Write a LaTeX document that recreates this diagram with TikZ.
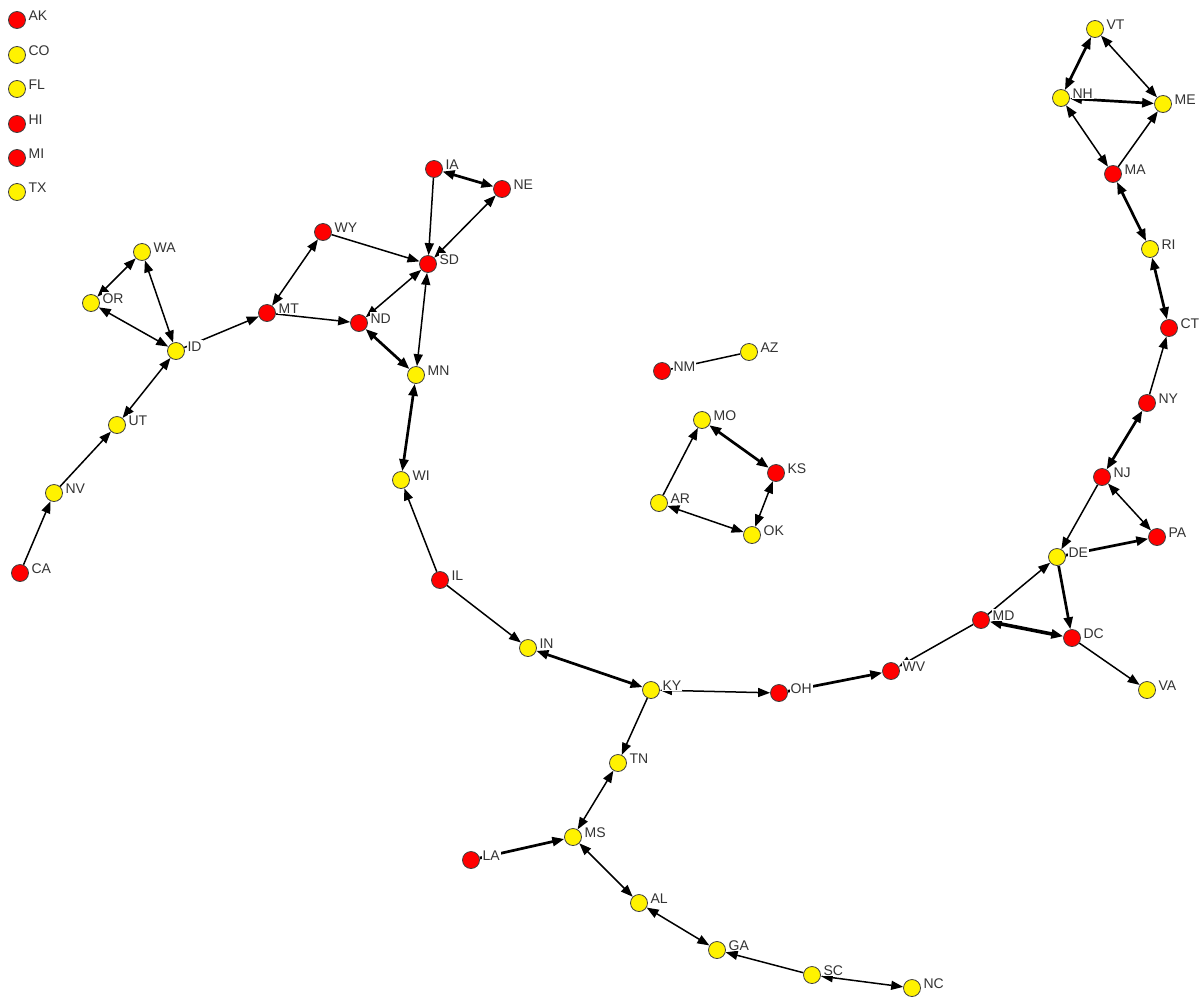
\documentclass[tikz,border=0pt]{standalone}
\usepackage{fontspec}
\setmainfont{Liberation Sans}
\usetikzlibrary{arrows.meta}
\pgfdeclarelayer{edges}
\pgfsetlayers{edges,main}

\begin{document}
\begin{tikzpicture}[x=1pt,y=-1pt,
  >={Triangle[length=12pt,width=9pt]},
  lbl/.style={anchor=base west,fill=white,inner sep=1pt,xshift=1.5pt,yshift=0pt,
    font=\fontsize{14}{16}\selectfont,text=black!80},
  st/.style={circle,draw=black!75,line width=0.8pt,minimum size=17pt,inner sep=0pt,
    label={[lbl]0:#1}},
  ys/.style={st=#1,fill=yellow},
  rs/.style={st=#1,fill=red},
  e/.style={line width=1.5pt},
  eb/.style={line width=2.7pt}]
\useasboundingbox (0,0) rectangle (1204,999);

\node[rs=AK] (AK) at (17,20) {};
\node[ys=CO] (CO) at (17,55) {};
\node[ys=FL] (FL) at (17,89) {};
\node[rs=HI] (HI) at (17,124) {};
\node[rs=MI] (MI) at (17,158) {};
\node[ys=TX] (TX) at (17,192) {};

\node[ys=WA] (WA) at (142,252) {};
\node[ys=OR] (OR) at (91,303) {};
\node[ys=ID] (ID) at (176,351) {};
\node[ys=UT] (UT) at (117,425) {};
\node[ys=NV] (NV) at (54,493) {};
\node[rs=CA] (CA) at (20,573) {};
\node[rs=MT] (MT) at (267,313) {};
\node[rs=WY] (WY) at (323,232) {};
\node[rs=SD] (SD) at (428,264) {};
\node[rs=IA] (IA) at (434,169) {};
\node[rs=NE] (NE) at (502,189) {};
\node[rs=ND] (ND) at (359,323) {};
\node[ys=MN] (MN) at (416,375) {};
\node[ys=WI] (WI) at (401,480) {};
\node[rs=IL] (IL) at (440,580) {};
\node[ys=IN] (IN) at (528,648) {};
\node[ys=KY] (KY) at (651,690) {};
\node[rs=OH] (OH) at (779,693) {};
\node[rs=WV] (WV) at (891,671) {};
\node[rs=MD] (MD) at (981,620) {};
\node[rs=DC] (DC) at (1072,638) {};
\node[ys=DE] (DE) at (1057,557) {};
\node[rs=NJ] (NJ) at (1102,477) {};
\node[rs=PA] (PA) at (1157,537) {};
\node[ys=VA] (VA) at (1147,690) {};
\node[rs=NY] (NY) at (1147,403) {};
\node[rs=CT] (CT) at (1169,328) {};
\node[ys=RI] (RI) at (1150,249) {};
\node[rs=MA] (MA) at (1113,174) {};
\node[ys=NH] (NH) at (1061,98) {};
\node[ys=VT] (VT) at (1095,29) {};
\node[ys=ME] (ME) at (1163,104) {};
\node[rs=NM] (NM) at (662,371) {};
\node[ys=AZ] (AZ) at (749,352) {};
\node[ys=MO] (MO) at (702,420) {};
\node[rs=KS] (KS) at (776,473) {};
\node[ys=AR] (AR) at (659,503) {};
\node[ys=OK] (OK) at (752,535) {};
\node[ys=TN] (TN) at (618,763) {};
\node[ys=MS] (MS) at (573,837) {};
\node[rs=LA] (LA) at (471,860) {};
\node[ys=AL] (AL) at (639,903) {};
\node[ys=GA] (GA) at (717,950) {};
\node[ys=SC] (SC) at (812,975) {};
\node[ys=NC] (NC) at (912,988) {};

\begin{pgfonlayer}{edges}
\draw[e,<->] (OR) -- (WA);
\draw[e,<->] (WA) -- (ID);
\draw[e,<->] (OR) -- (ID);
\draw[e,->] (ID) -- (MT);
\draw[e,<->] (UT) -- (ID);
\draw[e,->] (NV) -- (UT);
\draw[e,->] (CA) -- (NV);
\draw[e,<->] (MT) -- (WY);
\draw[e,->] (WY) -- (SD);
\draw[e,->] (MT) -- (ND);
\draw[e,<->] (ND) -- (SD);
\draw[e,->] (IA) -- (SD);
\draw[eb,<->] (IA) -- (NE);
\draw[e,<->] (SD) -- (NE);
\draw[e,<->] (SD) -- (MN);
\draw[eb,<->] (ND) -- (MN);
\draw[eb,<->] (MN) -- (WI);
\draw[e,->] (IL) -- (WI);
\draw[e,->] (IL) -- (IN);
\draw[eb,<->] (IN) -- (KY);
\draw[e,<->] (KY) -- (OH);
\draw[eb,->] (OH) -- (WV);
\draw[e,->] (MD) -- (WV);
\draw[e,->] (MD) -- (DE);
\draw[line width=3.6pt,<->] (MD) -- (DC);
\draw[eb,->] (DE) -- (DC);
\draw[e,->] (DC) -- (VA);
\draw[e,->] (NJ) -- (DE);
\draw[eb,->] (DE) -- (PA);
\draw[e,<->] (NJ) -- (PA);
\draw[eb,<->] (NY) -- (NJ);
\draw[e,->] (NY) -- (CT);
\draw[eb,<->] (CT) -- (RI);
\draw[eb,<->] (MA) -- (RI);
\draw[e,->] (MA) -- (ME);
\draw[e,<->] (NH) -- (MA);
\draw[eb,<->] (NH) -- (ME);
\draw[eb,<->] (VT) -- (NH);
\draw[e,<->] (VT) -- (ME);
\draw[e,->] (KY) -- (TN);
\draw[e,<->] (TN) -- (MS);
\draw[eb,->] (LA) -- (MS);
\draw[e,<->] (MS) -- (AL);
\draw[e,<->] (AL) -- (GA);
\draw[e,->] (SC) -- (GA);
\draw[e,<->] (SC) -- (NC);
\draw[e] (NM) -- (AZ);
\draw[e,->] (AR) -- (MO);
\draw[eb,<->] (MO) -- (KS);
\draw[e,<->] (KS) -- (OK);
\draw[e,<->] (AR) -- (OK);
\end{pgfonlayer}
\end{tikzpicture}
\end{document}
